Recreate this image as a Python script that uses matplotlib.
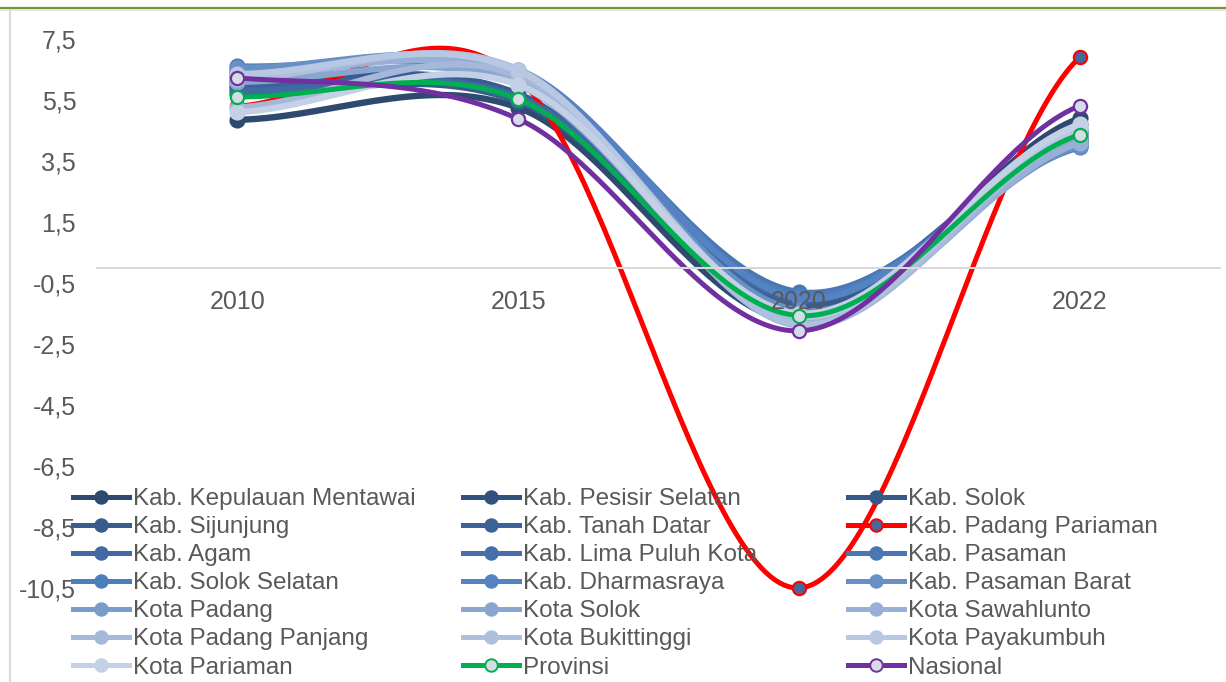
import numpy as np
import matplotlib.pyplot as plt
from matplotlib.lines import Line2D
from matplotlib.ticker import FixedLocator, FuncFormatter

plt.rcParams['font.family'] = ['Liberation Sans', 'DejaVu Sans']

tahun = ['2010', '2015', '2020', '2022']

wilayah = ['Kab. Kepulauan Mentawai', 'Kab. Pesisir Selatan', 'Kab. Solok',
           'Kab. Sijunjung', 'Kab. Tanah Datar', 'Kab. Padang Pariaman',
           'Kab. Agam', 'Kab. Lima Puluh Kota', 'Kab. Pasaman',
           'Kab. Solok Selatan', 'Kab. Dharmasraya', 'Kab. Pasaman Barat',
           'Kota Padang', 'Kota Solok', 'Kota Sawahlunto',
           'Kota Padang Panjang', 'Kota Bukittinggi', 'Kota Payakumbuh',
           'Kota Pariaman', 'Provinsi', 'Nasional']

# nilai per tahun, urutan sama dengan wilayah
v2010 = [4.85, 5.90, 5.70, 6.10, 5.95, 5.30, 5.80, 6.40, 6.50, 6.60, 6.30,
         6.55, 6.20, 6.10, 6.30, 5.25, 6.20, 6.35, 5.10, 5.60, 6.22]
v2015 = [5.25, 5.60, 5.45, 5.70, 5.50, 6.20, 5.60, 6.30, 6.40, 6.10, 6.50,
         6.35, 6.40, 6.00, 6.20, 6.30, 6.50, 6.45, 6.00, 5.53, 4.88]
v2020 = [-1.75, -1.50, -1.30, -1.20, -1.10, -10.50, -1.00, -0.85, -0.80,
         -0.90, -1.00, -1.40, -1.80, -1.50, -1.70, -1.90, -1.85, -1.60,
         -1.50, -1.57, -2.07]
v2022 = [4.90, 4.70, 4.50, 4.30, 4.40, 6.90, 4.20, 4.10, 4.00, 3.95, 4.15,
         4.00, 4.50, 4.30, 4.10, 4.40, 4.60, 4.55, 4.70, 4.36, 5.31]

warna = ['#2E4B6F', '#31527D', '#355A88', '#385D8D', '#3C6397', '#FF0000',
         '#4169A4', '#4570AC', '#4A77B4', '#4E7DBB', '#5482C2', '#6990C6',
         '#7A9CCB', '#8AA6D0', '#98B0D5', '#A5B8D9', '#AFC0DE', '#B9C8E2',
         '#C4D0E6', '#00B050', '#7030A0']


def halus(y, n=60):
    # kurva mulus ala Excel (Catmull-Rom)
    y = np.asarray(y, float)
    m = np.zeros_like(y)
    m[1:-1] = (y[2:] - y[:-2]) / 2
    m[0] = (y[1] - y[0]) / 2
    m[-1] = (y[-1] - y[-2]) / 2
    xs, ys = [], []
    for i in range(len(y) - 1):
        t = np.linspace(0, 1, n)
        h00 = 2 * t**3 - 3 * t**2 + 1
        h10 = t**3 - 2 * t**2 + t
        h01 = -2 * t**3 + 3 * t**2
        h11 = t**3 - t**2
        xs.append(i + t)
        ys.append(h00 * y[i] + h10 * m[i] + h01 * y[i + 1] + h11 * m[i + 1])
    return np.concatenate(xs), np.concatenate(ys)


fig = plt.figure(figsize=(12.26, 6.82), dpi=100)
ax = fig.add_axes([97 / 1226, 1 - 588 / 682, 1123 / 1226, 549 / 682])

x = np.arange(len(tahun))
handles = []
for i, nama in enumerate(wilayah):
    y = [v2010[i], v2015[i], v2020[i], v2022[i]]
    c = warna[i]
    if nama in ('Provinsi', 'Nasional'):
        lw, face, edge, ms = 3.6, '#D6DCE5', c, 9.5
    elif c == '#FF0000':
        lw, face, edge, ms = 3.6, '#44699F', c, 9.5
    else:
        lw, face, edge, ms = 4.6, c, c, 10
    xs, ys = halus(y)
    ax.plot(xs, ys, color=c, lw=lw, solid_capstyle='round', clip_on=False)
    ax.plot(x, y, 'o', ms=ms, mfc=face, mec=edge, mew=1.6, clip_on=False)
    handles.append(Line2D([], [], color=c, lw=3.6, marker='o', ms=9,
                          mfc=face, mec=edge, mew=1.4))

ax.set_xlim(-0.5, 3.5)
ax.set_ylim(-10.5, 7.5)
ax.set_xticks(x)
ax.set_xticklabels(tahun)
ax.yaxis.set_major_locator(FixedLocator(np.arange(-10.5, 7.6, 2)))
ax.yaxis.set_major_formatter(FuncFormatter(lambda v, p: f'{v:.1f}'.replace('.', ',')))
ax.tick_params(axis='both', length=0, labelsize=18, labelcolor='#595959')
ax.tick_params(axis='x', pad=16)
ax.tick_params(axis='y', pad=15)
for s in ['top', 'right', 'left']:
    ax.spines[s].set_visible(False)
ax.spines['bottom'].set_position(('data', 0))
ax.spines['bottom'].set_color('#D9D9D9')
ax.spines['bottom'].set_linewidth(1.5)
ax.set_axisbelow(False)

# legenda tiga kolom, diisi per baris
kolom_x = [73 / 1226, 463 / 1226, 848 / 1226]
for k in range(3):
    h = [handles[r * 3 + k] for r in range(7)]
    lab = [wilayah[r * 3 + k] for r in range(7)]
    fig.legend(h, lab, loc='upper left', bbox_to_anchor=(kolom_x[k], 1 - 488 / 682),
               frameon=False, fontsize=17.5, handlelength=2.3, handletextpad=0.15,
               labelspacing=0.25, borderpad=0, borderaxespad=0, labelcolor='#595959')

# bingkai
fig.add_artist(Line2D([0, 1], [1 - 8 / 682, 1 - 8 / 682], color='#77933C', lw=1.6))
fig.add_artist(Line2D([0, 1], [1 - 10 / 682, 1 - 10 / 682], color='#E0E0E0', lw=1.2))
fig.add_artist(Line2D([10 / 1226, 10 / 1226], [0, 1 - 10 / 682], color='#D9D9D9', lw=1.5))

fig.savefig('out.png', dpi=100)
